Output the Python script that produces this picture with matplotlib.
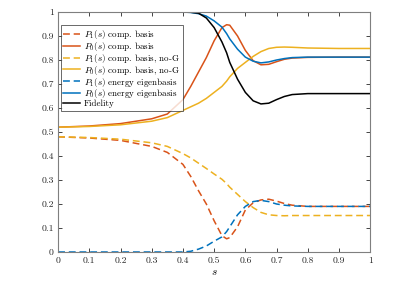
import matplotlib
matplotlib.use("Agg")
import matplotlib.pyplot as plt

plt.rcParams['font.family'] = 'serif'
plt.rcParams['font.serif'] = ['cmr10']
plt.rcParams['mathtext.fontset'] = 'cm'
plt.rcParams['axes.formatter.use_mathtext'] = True

s = [0.0, 0.1, 0.2, 0.3, 0.35, 0.4, 0.425, 0.45, 0.475, 0.5, 0.525, 0.54, 0.55,
     0.575, 0.6, 0.625, 0.65, 0.675, 0.7, 0.725, 0.75, 0.8, 0.9, 1.0]

p1_comp = [0.48, 0.475, 0.465, 0.44, 0.415, 0.365, 0.315, 0.255, 0.2, 0.13, 0.068, 0.055, 0.06,
           0.105, 0.175, 0.205, 0.217, 0.22, 0.212, 0.202, 0.195, 0.19, 0.19, 0.19]
p0_comp = [0.52, 0.525, 0.535, 0.555, 0.575, 0.635, 0.69, 0.75, 0.81, 0.88, 0.935, 0.947, 0.945,
           0.9, 0.84, 0.797, 0.78, 0.782, 0.793, 0.803, 0.808, 0.811, 0.812, 0.812]
p1_nog = [0.48, 0.477, 0.47, 0.455, 0.44, 0.41, 0.392, 0.37, 0.348, 0.325, 0.303, 0.285, 0.27,
          0.24, 0.21, 0.185, 0.165, 0.155, 0.152, 0.151, 0.152, 0.152, 0.152, 0.152]
p0_nog = [0.52, 0.523, 0.53, 0.545, 0.56, 0.59, 0.605, 0.62, 0.64, 0.665, 0.69, 0.712, 0.73,
          0.765, 0.79, 0.815, 0.835, 0.848, 0.853, 0.854, 0.853, 0.85, 0.848, 0.848]
p1_energy = [0.0, 0.0, 0.0, 0.0, 0.0, 0.0, 0.003, 0.012, 0.025, 0.045, 0.063, 0.085, 0.105,
             0.155, 0.19, 0.21, 0.215, 0.21, 0.2, 0.195, 0.192, 0.19, 0.19, 0.19]
p0_energy = [1.0, 1.0, 1.0, 1.0, 1.0, 1.0, 0.998, 0.993, 0.983, 0.963, 0.937, 0.91, 0.888,
             0.845, 0.812, 0.795, 0.788, 0.792, 0.8, 0.806, 0.81, 0.812, 0.812, 0.812]
fidelity = [1.0, 1.0, 1.0, 1.0, 1.0, 1.0, 0.999, 0.995, 0.975, 0.935, 0.875, 0.83, 0.79,
            0.72, 0.665, 0.63, 0.617, 0.62, 0.635, 0.648, 0.656, 0.66, 0.66, 0.66]

labels = [r'$P_1(s)$ comp. basis', r'$P_0(s)$ comp. basis',
          r'$P_1(s)$ comp. basis, no-G', r'$P_0(s)$ comp. basis, no-G',
          r'$P_1(s)$ energy eigenbasis', r'$P_0(s)$ energy eigenbasis', 'Fidelity']

blue = '#0072BD'
orange = '#D95319'
yellow = '#EDB120'

fig = plt.figure(figsize=(4.15, 3.0), dpi=100)
ax = fig.add_axes([0.14, 0.16, 0.752, 0.80])

lw = 1.1
dash = (4.5, 2.5)
ax.plot(s, p1_comp, color=orange, lw=lw, dashes=dash, label=labels[0])
ax.plot(s, p0_comp, color=orange, lw=lw, label=labels[1])
ax.plot(s, p1_nog, color=yellow, lw=lw, dashes=dash, label=labels[2])
ax.plot(s, p0_nog, color=yellow, lw=lw, label=labels[3])
ax.plot(s, p1_energy, color=blue, lw=lw, dashes=dash, label=labels[4])
ax.plot(s, p0_energy, color=blue, lw=lw, label=labels[5])
ax.plot(s, fidelity, color='black', lw=lw, label=labels[6])

ax.set_xlim(0, 1)
ax.set_ylim(0, 1)
ax.set_xticks([0, 0.1, 0.2, 0.3, 0.4, 0.5, 0.6, 0.7, 0.8, 0.9, 1])
ax.set_xticklabels(['0', '0.1', '0.2', '0.3', '0.4', '0.5', '0.6', '0.7', '0.8', '0.9', '1'])
ax.set_yticks([0, 0.1, 0.2, 0.3, 0.4, 0.5, 0.6, 0.7, 0.8, 0.9, 1])
ax.set_yticklabels(['0', '0.1', '0.2', '0.3', '0.4', '0.5', '0.6', '0.7', '0.8', '0.9', '1'])
ax.tick_params(direction='in', length=3, width=0.6, labelsize=7, colors='#262626',
               top=True, right=True, pad=3)
for sp in ax.spines.values():
    sp.set_color('#7f7f7f')
    sp.set_linewidth(0.8)
ax.set_xlabel(r'$s$', fontsize=8, labelpad=2)

leg = ax.legend(loc='upper left', bbox_to_anchor=(0.008, 0.945), borderaxespad=0,
                fontsize=6.5, frameon=True, fancybox=False, edgecolor='#262626',
                handlelength=1.9, handletextpad=0.4, labelspacing=-0.12,
                borderpad=0.3)
leg.get_frame().set_linewidth(0.6)

fig.savefig('out.png', dpi=100)
